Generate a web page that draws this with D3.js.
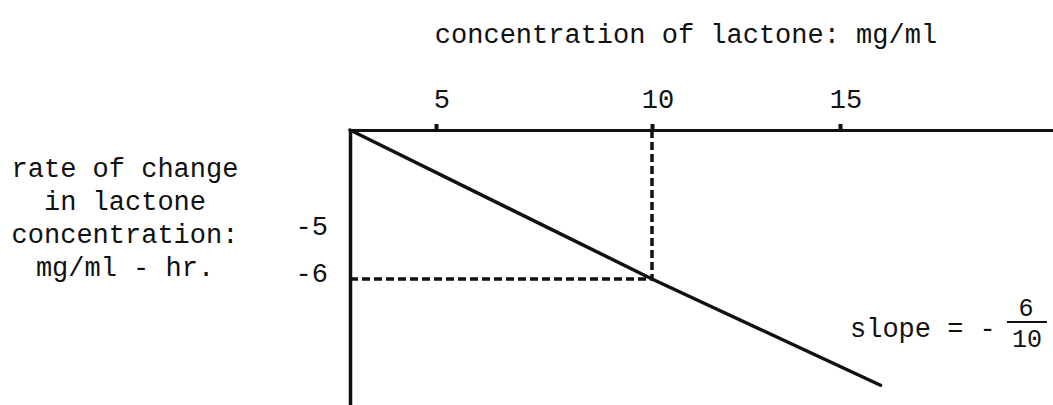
<!DOCTYPE html>
<html>
<head>
<meta charset="utf-8">
<script src="https://cdn.jsdelivr.net/npm/d3@7"></script>
<style>
	html, body { margin: 0; padding: 0; background: #fff; }
	svg { display: block; }
	text { font-family: 'Liberation Mono', 'DejaVu Sans Mono', monospace; fill: #111; }
</style>
</head>
<body>
<div id="chart"></div>
<script>
// Tick values on each axis
const xTicks = [5, 10, 15];
const yTicks = [-5, -6];

// The straight line: concentration (mg/ml) vs rate of change (mg/ml - hr.)
const lineConc = [0, 10, 15.9];
const lineRate = [0, -6, -8.26];

// Reading point shown with the dashed guides
const readConc = [10];
const readRate = [-6];

// Labels
const xTitle = 'concentration of lactone: mg/ml';
const yTitle = ['rate of change', 'in lactone', 'concentration:', 'mg/ml - hr.'];
const slopeText = 'slope = -';
const slopeNum = '6';
const slopeDen = '10';

const width = 1053;
const height = 405;

// The original is hand drawn, so the axes are not evenly spaced
const x = d3.scaleLinear()
	.domain([0, 5, 10, 15, 20])
	.range([350, 436, 652, 840, 1065]);

const y = d3.scaleLinear()
	.domain([0, -5, -6, -9])
	.range([130, 232, 279, 420]);

const svg = d3.select('#chart')
	.append('svg')
	.attr('width', width)
	.attr('height', height);

// Top axis with small upward ticks
const xAxis = svg.append('g')
	.attr('transform', `translate(0,${y(0)})`)
	.call(d3.axisTop(x).tickValues(xTicks).tickSize(6).tickSizeOuter(0).tickPadding(16));
xAxis.select('.domain').attr('stroke', '#111').attr('stroke-width', 3);
xAxis.selectAll('.tick line').attr('stroke', '#111').attr('stroke-width', 4);
xAxis.selectAll('.tick text')
	.style('font-size', '27px')
	.attr('dx', '0.2em')
	.attr('fill', '#111');

// Left axis
const yAxis = svg.append('g')
	.attr('transform', `translate(${x(0)},0)`)
	.call(d3.axisLeft(y).tickValues(yTicks).tickSize(0).tickSizeOuter(0).tickPadding(22)
		.tickFormat((d) => '-' + Math.abs(d)));
yAxis.select('.domain').attr('stroke', '#111').attr('stroke-width', 3.5);
yAxis.selectAll('.tick text')
	.style('font-size', '27px')
	.attr('dy', '0.11em')
	.attr('fill', '#111');

// Dashed guides to the reading point
readConc.forEach((c, i) => {
	const r = readRate[i];
	svg.append('path')
		.attr('d', d3.line()([[x(0), y(r)], [x(c), y(r)]]))
		.attr('fill', 'none')
		.attr('stroke', '#111')
		.attr('stroke-width', 3.5)
		.attr('stroke-dasharray', '8,4');
	svg.append('path')
		.attr('d', d3.line()([[x(c), y(0)], [x(c), y(r)]]))
		.attr('fill', 'none')
		.attr('stroke', '#111')
		.attr('stroke-width', 3.5)
		.attr('stroke-dasharray', '8,4');
});

// Main line
svg.append('path')
	.attr('d', d3.line()(lineConc.map((c, i) => [x(c), y(lineRate[i])])))
	.attr('fill', 'none')
	.attr('stroke', '#111')
	.attr('stroke-width', 3.5)
	.attr('stroke-linecap', 'round');

// Axis titles
svg.append('text')
	.attr('x', 686)
	.attr('y', 43)
	.attr('text-anchor', 'middle')
	.style('font-size', '27px')
	.text(xTitle);

svg.append('g')
	.selectAll('text')
	.data(yTitle)
	.enter()
	.append('text')
	.attr('x', 125)
	.attr('y', (d, i) => 177 + i * 33)
	.attr('text-anchor', 'middle')
	.style('font-size', '27px')
	.text((d) => d);

// Slope note
svg.append('text')
	.attr('x', 850)
	.attr('y', 337)
	.style('font-size', '27px')
	.text(slopeText);

svg.append('text')
	.attr('x', 1026)
	.attr('y', 316)
	.attr('text-anchor', 'middle')
	.style('font-size', '25px')
	.text(slopeNum);

svg.append('line')
	.attr('x1', 1007)
	.attr('x2', 1047)
	.attr('y1', 322)
	.attr('y2', 322)
	.attr('stroke', '#111')
	.attr('stroke-width', 2);

svg.append('text')
	.attr('x', 1027)
	.attr('y', 347)
	.attr('text-anchor', 'middle')
	.style('font-size', '25px')
	.text(slopeDen);
</script>
</body>
</html>
